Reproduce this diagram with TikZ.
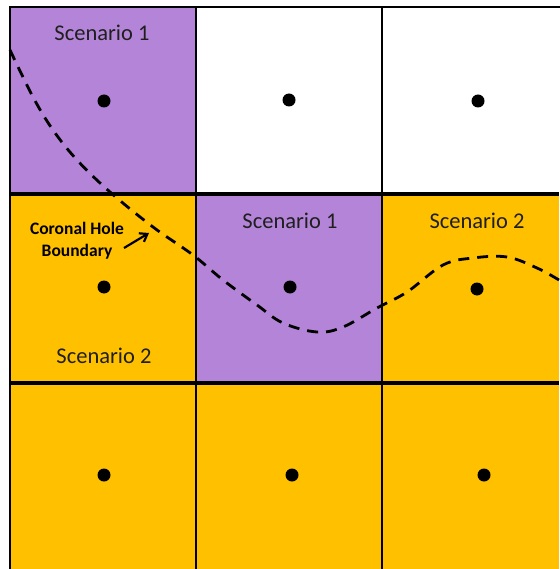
\documentclass[tikz,border=0pt]{standalone}
\usepackage{fontspec}
\setmainfont{Carlito}
\usetikzlibrary{arrows.meta}
\definecolor{purp}{RGB}{180,132,216}
\definecolor{gold}{RGB}{255,192,0}
\tikzset{
  gridline/.style={line width=2.8pt, line cap=rect},
  dot/.style={circle, fill=black, inner sep=0pt, minimum size=13pt},
  scen/.style={font=\fontsize{22.5}{24}\selectfont, text=black!88},
  lbl/.style={font=\bfseries\fontsize{17.5}{22}\selectfont, align=center, inner sep=0pt},
  bound/.style={line width=2.8pt, dash pattern=on 11pt off 8pt}
}
\begin{document}
\begin{tikzpicture}[x=1pt,y=-1pt]
\useasboundingbox (0,0) rectangle (559,569);
% cells
\fill[purp] (10,7) rectangle (196,194);
\fill[white] (196,7) rectangle (559,194);
\fill[gold] (10,194) rectangle (196,383);
\fill[purp] (196,194) rectangle (382,383);
\fill[gold] (382,194) rectangle (559,383);
\fill[gold] (10,383) rectangle (559,569);
% grid
\draw[gridline] (10,569) -- (10,7) -- (559,7);
\draw[line width=3.4pt] (10,194) -- (559,194);
\draw[line width=3.8pt] (10,383) -- (559,383);
\draw[line width=2.8pt] (196,7) -- (196,569);
\draw[line width=2.8pt] (382,7) -- (382,569);
% dots
\node[dot] (d11) at (104,101) {};
\node[dot] (d12) at (289,100) {};
\node[dot] (d13) at (478,101) {};
\node[dot] (d21) at (104,287) {};
\node[dot] (d22) at (290,287) {};
\node[dot] (d23) at (477,289) {};
\node[dot] (d31) at (104,475) {};
\node[dot] (d32) at (292,475) {};
\node[dot] (d33) at (484,475) {};
% labels
\node[scen] (s11) at (102,33) {Scenario 1};
\node[scen] (s22) at (290,221) {Scenario 1};
\node[scen] (s23) at (477,221) {Scenario 2};
\node[scen] (s21) at (104,356) {Scenario 2};
\node[lbl] (chb) at (77,241) {Coronal Hole\\Boundary};
% boundary curve
\draw[bound] plot[smooth, tension=0.6] coordinates {(10,50) (33,97) (53,130) (77,160) (110,192) (153,227) (193,255) (223,280) (257,305) (283,323) (317,332) (343,327) (377,308) (407,292) (443,265) (473,258) (507,257) (537,268) (559,280)};
\coordinate (tail) at (124,248);
\coordinate (tip) at (149,233);
\draw[line width=2.2pt, -{Straight Barb[length=7pt,width=10pt]}] (tail) -- (tip);
\end{tikzpicture}
\end{document}
